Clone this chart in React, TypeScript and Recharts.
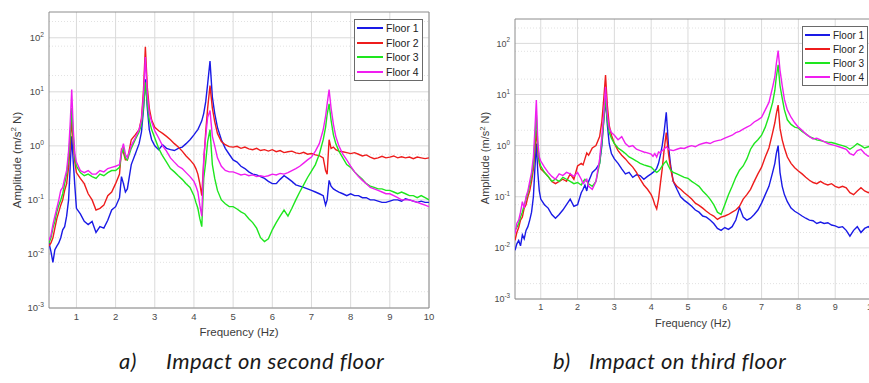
import {
  CartesianGrid,
  Legend,
  Line,
  LineChart,
  ReferenceArea,
  XAxis,
  YAxis,
} from 'recharts'

const FONT = '"Liberation Sans", Arial, sans-serif'
const CAPTION_FONT = 'Lato, "Open Sans", sans-serif'

// shared frequency grid (Hz), denser around the modes
const FREQ = [
  0.3, 0.35, 0.4, 0.45, 0.5, 0.55, 0.6, 0.65, 0.7, 0.75,
  0.8, 0.84, 0.88, 0.92, 0.96, 1.0,
  1.1, 1.2, 1.3, 1.4, 1.5, 1.6, 1.7, 1.8, 1.9, 2.0,
  2.1, 2.15, 2.2, 2.25, 2.3, 2.4, 2.5, 2.6,
  2.66, 2.71, 2.76, 2.81, 2.86, 2.92, 3.0,
  3.1, 3.2, 3.3, 3.4, 3.5, 3.6, 3.7, 3.8, 3.9,
  4.0, 4.05, 4.1, 4.15, 4.2, 4.25, 4.3,
  4.35, 4.41, 4.47, 4.53, 4.6, 4.7, 4.8, 4.9, 5.0,
  5.1, 5.2, 5.3, 5.4, 5.5, 5.6, 5.7, 5.8, 5.9, 6.0,
  6.1, 6.2, 6.3, 6.4, 6.5, 6.6, 6.7, 6.8, 6.9, 7.0,
  7.1, 7.2, 7.3, 7.36, 7.4, 7.45, 7.5, 7.56, 7.62, 7.7,
  7.8, 7.9, 8.0, 8.1, 8.2, 8.3, 8.4, 8.5, 8.6, 8.7,
  8.8, 8.9, 9.0, 9.1, 9.2, 9.3, 9.4, 9.5, 9.6, 9.7,
  9.8, 9.9, 10.0,
]

// a) impact on second floor
const A_FLOOR1 = [
  0.016, 0.011, 0.007, 0.012, 0.014, 0.016, 0.02, 0.028, 0.032, 0.05,
  0.1, 0.4, 1.5, 0.5, 0.18, 0.07,
  0.055, 0.04, 0.035, 0.04, 0.025, 0.032, 0.03, 0.042, 0.065, 0.075,
  0.11, 0.27, 0.2, 0.14, 0.16, 0.45, 0.7, 1.1,
  1.8, 4.5, 17, 5, 2, 1.3, 1.0,
  0.85, 1.05, 0.9, 0.85, 0.82, 0.9, 0.95, 1.1, 1.3,
  1.6, 1.8, 2.0, 2.4, 2.9, 4.0, 6.5,
  14, 37, 8, 4, 2.2, 1.3, 0.9, 0.7, 0.55,
  0.5, 0.42, 0.38, 0.33, 0.3, 0.29, 0.27, 0.25, 0.22, 0.2,
  0.2, 0.24, 0.28, 0.25, 0.22, 0.19, 0.18, 0.17, 0.16, 0.15,
  0.14, 0.13, 0.12, 0.08, 0.1, 0.23, 0.18, 0.16, 0.15, 0.14,
  0.13, 0.12, 0.13, 0.12, 0.12, 0.11, 0.11, 0.1, 0.1, 0.095,
  0.09, 0.09, 0.095, 0.1, 0.1, 0.095, 0.105, 0.1, 0.095, 0.09,
  0.095, 0.09, 0.09,
]
const A_FLOOR2 = [
  0.014, 0.016, 0.02, 0.03, 0.045, 0.06, 0.08, 0.1, 0.15, 0.2,
  0.4, 1.0, 3, 1.2, 0.5, 0.32,
  0.25, 0.2, 0.13, 0.1, 0.065, 0.07, 0.08, 0.12, 0.14, 0.2,
  0.3, 0.85, 0.75, 0.55, 0.55, 1.3, 1.6, 2.0,
  3.2, 10, 68, 12, 5, 3, 2.2,
  1.9, 1.7, 1.5, 1.3, 1.1, 0.95, 0.8, 0.65, 0.55,
  0.45, 0.38, 0.3, 0.2, 0.12, 0.5, 1.8,
  5, 13, 5, 2.8, 1.7, 1.2, 1.05, 0.97, 0.95,
  0.98, 0.9, 0.95, 0.88, 0.85, 0.9, 0.82, 0.85, 0.8, 0.85,
  0.78, 0.82, 0.75, 0.78, 0.8, 0.74, 0.72, 0.76, 0.7, 0.72,
  0.68, 0.66, 0.6, 0.35, 0.3, 1.3, 0.9, 0.95, 0.85, 0.8,
  0.78, 0.75, 0.72, 0.75, 0.7, 0.65, 0.68, 0.62, 0.58, 0.6,
  0.64, 0.6, 0.62, 0.65, 0.6, 0.63, 0.6, 0.62, 0.58, 0.62,
  0.6, 0.58, 0.6,
]
const A_FLOOR3 = [
  0.016, 0.02, 0.03, 0.04, 0.06, 0.08, 0.1, 0.13, 0.2, 0.3,
  0.6, 1.5, 5, 1.5, 0.6, 0.42,
  0.32, 0.28, 0.3, 0.27, 0.25, 0.3, 0.28, 0.32, 0.35, 0.35,
  0.4, 0.7, 0.9, 0.6, 0.55, 0.9, 1.3, 1.8,
  2.5, 5, 15, 6, 3, 2, 1.4,
  0.9, 0.65, 0.5, 0.38, 0.33, 0.28, 0.24, 0.2, 0.17,
  0.12, 0.09, 0.07, 0.045, 0.032, 0.25, 0.5,
  1.2, 2.0, 0.45, 0.25, 0.15, 0.1, 0.085, 0.075, 0.075,
  0.068, 0.06, 0.055, 0.045, 0.038, 0.03, 0.02, 0.017, 0.019, 0.028,
  0.038, 0.05, 0.065, 0.05, 0.07, 0.1, 0.14, 0.19, 0.26, 0.34,
  0.45, 0.7, 1.3, 2.2, 3.8, 6, 3, 1.6, 1.1, 0.8,
  0.6, 0.45, 0.4, 0.33, 0.28, 0.24, 0.2, 0.18, 0.17, 0.16,
  0.16, 0.15, 0.15, 0.14, 0.13, 0.14, 0.13, 0.12, 0.12, 0.11,
  0.12, 0.11, 0.1,
]
const A_FLOOR4 = [
  0.018, 0.022, 0.035, 0.05, 0.07, 0.1, 0.15, 0.17, 0.25, 0.35,
  0.8, 2.5, 11, 2, 0.7, 0.5,
  0.35, 0.32, 0.35, 0.3, 0.3, 0.35, 0.33, 0.38, 0.4, 0.42,
  0.45, 0.8, 1.1, 0.7, 0.6, 1.0, 1.4, 2.0,
  3, 8, 44, 9, 4, 2.8, 1.9,
  1.4, 1.0, 0.8, 0.6, 0.5, 0.42, 0.38, 0.32, 0.27,
  0.22, 0.18, 0.14, 0.08, 0.05, 0.6, 1.5,
  3.4, 4.5, 1.5, 1.0, 0.6, 0.42, 0.35, 0.33, 0.33,
  0.31, 0.29, 0.3, 0.28, 0.29, 0.27, 0.28, 0.27, 0.28, 0.3,
  0.29, 0.31, 0.3, 0.32, 0.35, 0.38, 0.42, 0.48, 0.55, 0.62,
  0.8, 1.1, 2, 3.5, 6, 11, 5, 2.5, 1.5, 1.0,
  0.7, 0.55, 0.42, 0.33, 0.27, 0.23, 0.2, 0.17, 0.16, 0.15,
  0.14, 0.13, 0.13, 0.12, 0.11, 0.1, 0.1, 0.1, 0.095, 0.09,
  0.085, 0.08, 0.075,
]

// b) impact on third floor
const B_FLOOR1 = [
  0.009, 0.012, 0.014, 0.011, 0.018, 0.015, 0.022, 0.026, 0.035, 0.05,
  0.1, 0.35, 1.1, 0.3, 0.13, 0.09,
  0.07, 0.06, 0.045, 0.038, 0.045, 0.055, 0.07, 0.09, 0.065, 0.07,
  0.12, 0.14, 0.17, 0.13, 0.2, 0.3, 0.35, 0.45,
  1.0, 3, 7.8, 2.5, 1.1, 0.7, 0.55,
  0.45, 0.35, 0.28, 0.3, 0.24, 0.27, 0.26, 0.22, 0.25,
  0.28, 0.3, 0.32, 0.36, 0.45, 0.65, 1.0,
  1.8, 4.5, 1.0, 0.4, 0.2, 0.14, 0.1, 0.085, 0.075,
  0.065, 0.055, 0.05, 0.042, 0.04, 0.035, 0.03, 0.024, 0.022, 0.025,
  0.023, 0.026, 0.035, 0.062, 0.04, 0.035, 0.038, 0.045, 0.055, 0.075,
  0.11, 0.16, 0.3, 0.45, 0.7, 1.0, 0.3, 0.16, 0.11, 0.08,
  0.06, 0.052, 0.047, 0.042, 0.038, 0.035, 0.034, 0.03, 0.032, 0.03,
  0.031, 0.028, 0.027, 0.025, 0.026, 0.022, 0.017, 0.022, 0.026, 0.02,
  0.024, 0.026, 0.022,
]
const B_FLOOR2 = [
  0.014, 0.02, 0.025, 0.035, 0.04, 0.06, 0.07, 0.1, 0.13, 0.2,
  0.35, 0.8, 2, 0.8, 0.45, 0.35,
  0.3, 0.25, 0.2, 0.18, 0.2, 0.22, 0.2, 0.28, 0.22, 0.4,
  0.45, 0.42, 0.55, 0.72, 0.65, 0.9, 1.0, 1.5,
  3, 8, 24, 6, 2.5, 1.6, 1.1,
  0.8, 0.65, 0.55, 0.45, 0.38, 0.3, 0.22, 0.17, 0.14,
  0.11, 0.09, 0.07, 0.058, 0.09, 0.18, 0.35,
  0.8, 1.8, 0.7, 0.35, 0.2, 0.16, 0.14, 0.12, 0.105,
  0.09, 0.075, 0.068, 0.06, 0.052, 0.046, 0.042, 0.036, 0.04, 0.042,
  0.045, 0.05, 0.055, 0.065, 0.09, 0.11, 0.14, 0.2, 0.28, 0.38,
  0.6, 0.9, 1.8, 2.8, 4.2, 6.2, 2.2, 1.3, 0.9, 0.6,
  0.45, 0.37, 0.32, 0.28, 0.24, 0.21, 0.19, 0.18, 0.2, 0.18,
  0.17, 0.18, 0.16, 0.15, 0.16, 0.15, 0.12, 0.11, 0.13, 0.15,
  0.13, 0.12, 0.13,
]
const B_FLOOR3 = [
  0.022, 0.025, 0.03, 0.04, 0.05, 0.07, 0.09, 0.12, 0.17, 0.25,
  0.45, 1.2, 4, 1.0, 0.5, 0.4,
  0.3, 0.25, 0.2, 0.22, 0.2, 0.24, 0.22, 0.2, 0.18, 0.19,
  0.17, 0.2, 0.22, 0.2, 0.18, 0.16, 0.2, 0.45,
  1.2, 3, 9, 3, 1.8, 1.4, 1.1,
  0.9, 0.8, 0.7, 0.6, 0.55, 0.5, 0.45, 0.42, 0.4,
  0.38, 0.35, 0.32, 0.3, 0.32, 0.35, 0.4,
  0.45, 0.5, 0.4, 0.33, 0.3, 0.28, 0.26, 0.24, 0.23,
  0.2, 0.18, 0.16, 0.13, 0.11, 0.09, 0.07, 0.05, 0.045, 0.07,
  0.11, 0.16, 0.24, 0.33, 0.4, 0.55, 0.85, 1.1, 1.3, 1.6,
  2.3, 3.8, 7, 12, 22, 38, 15, 8.5, 5, 3.2,
  2.6, 2.3, 2.2, 1.9, 1.7, 1.5, 1.4, 1.3, 1.25, 1.2,
  1.17, 1.15, 1.1, 1.05, 1.0, 0.95, 0.85, 0.95, 1.1, 1.0,
  0.9, 0.95, 1.0,
]
const B_FLOOR4 = [
  0.019, 0.03, 0.035, 0.05, 0.08, 0.06, 0.1, 0.13, 0.2, 0.3,
  0.6, 2, 7.8, 1.2, 0.6, 0.5,
  0.38, 0.3, 0.25, 0.22, 0.28, 0.26, 0.3, 0.28, 0.25, 0.3,
  0.22, 0.18, 0.2, 0.22, 0.16, 0.14, 0.2, 0.55,
  1.5, 4, 14, 4, 2.2, 1.8, 1.6,
  1.3, 1.5, 1.1, 0.95, 1.0, 0.85, 0.8, 0.75, 0.72,
  0.68, 0.62, 0.7, 0.6, 0.75, 0.72, 0.8,
  0.85, 0.95, 0.85, 0.82, 0.8, 0.85, 0.9, 0.88, 0.95,
  1.0, 0.95, 1.05, 1.1, 1.15, 1.1, 1.2, 1.25, 1.3, 1.4,
  1.5, 1.6, 1.8, 1.9, 2.1, 2.3, 2.5, 2.9, 3.2, 3.6,
  5, 7, 14, 22, 40, 72, 30, 15, 8, 5,
  3.6, 2.8, 2.3, 2.0, 1.7, 1.5, 1.35, 1.4, 1.3, 1.2,
  1.1, 1.05, 1.0, 0.95, 0.9, 0.85, 0.7, 0.65, 0.8, 0.85,
  0.7, 0.62, 0.65,
]

const SERIES = [
  { key: 'f1', name: 'Floor 1', color: '#1a1ae6' },
  { key: 'f2', name: 'Floor 2', color: '#ee1c1c' },
  { key: 'f3', name: 'Floor 3', color: '#1ee61e' },
  { key: 'f4', name: 'Floor 4', color: '#f01ef0' },
]

const X_TICKS = [1, 2, 3, 4, 5, 6, 7, 8, 9, 10]
const Y_TICKS = [0.001, 0.01, 0.1, 1, 10, 100]
const Y_MINOR = Y_TICKS.flatMap((d) => [2, 3, 4, 5, 6, 7, 8, 9].map((m) => d * m)).filter(
  (v) => v < 300,
)

function toRows(floors: number[][]) {
  return FREQ.map((f, i) => ({
    f,
    f1: floors[0][i],
    f2: floors[1][i],
    f3: floors[2][i],
    f4: floors[3][i],
  }))
}

function LogTick(props: any) {
  const { x, y, payload, fs } = props
  const exp = Math.round(Math.log10(payload.value))
  return (
    <text x={x} y={y} dy={fs * 0.35} textAnchor="end" fill="#4a4a4a" fontSize={fs} fontFamily={FONT}>
      10
      <tspan dy={-fs * 0.45} fontSize={fs * 0.7}>
        {exp}
      </tspan>
    </text>
  )
}

function legendContent(fs: number, rowH: number, lineW: number) {
  return () => (
    <div
      style={{
        border: '1px solid #6a6a6a',
        background: '#fff',
        padding: '1px 3px 1px 2px',
        fontFamily: FONT,
        fontSize: fs,
        color: '#222',
      }}
    >
      {SERIES.map((s) => (
        <div key={s.key} style={{ display: 'flex', alignItems: 'center', height: rowH }}>
          <span
            style={{
              display: 'inline-block',
              width: lineW,
              borderTop: `2px solid ${s.color}`,
              marginRight: 3,
            }}
          />
          {s.name}
        </div>
      ))}
    </div>
  )
}

interface PanelProps {
  rows: ReturnType<typeof toRows>
  left: number
  width: number
  height: number
  margin: { top: number; right: number; bottom: number; left: number }
  yAxisWidth: number
  xAxisHeight: number
  tickFs: number
  legendPos: { left: number; top: number }
  legendFs: number
  legendRow: number
  legendLine: number
}

function Panel(p: PanelProps) {
  return (
    <div style={{ position: 'absolute', left: p.left, top: 0 }}>
      <LineChart width={p.width} height={p.height} data={p.rows} margin={p.margin}>
        <CartesianGrid
          stroke="#e2e2e2"
          strokeDasharray="1 2"
          vertical={false}
          horizontalValues={Y_MINOR}
        />
        <CartesianGrid stroke="#dadada" horizontalValues={Y_TICKS} verticalValues={X_TICKS} />
        <XAxis
          dataKey="f"
          type="number"
          domain={[0.3, 10]}
          ticks={X_TICKS}
          allowDataOverflow
          height={p.xAxisHeight}
          axisLine={false}
          tickLine={false}
          tickSize={3}
          tickMargin={2}
          tick={{ fill: '#4a4a4a', fontSize: p.tickFs, fontFamily: FONT }}
        />
        <YAxis
          scale="log"
          type="number"
          domain={[0.001, 300]}
          ticks={Y_TICKS}
          allowDataOverflow
          width={p.yAxisWidth}
          axisLine={false}
          tickLine={false}
          tickSize={3}
          tickMargin={2}
          tick={(t: any) => <LogTick {...t} fs={p.tickFs} />}
        />
        {SERIES.map((s) => (
          <Line
            key={s.key}
            dataKey={s.key}
            name={s.name}
            stroke={s.color}
            strokeWidth={1.4}
            dot={false}
            activeDot={false}
            isAnimationActive={false}
          />
        ))}
        <ReferenceArea
          x1={0.3}
          x2={10}
          y1={0.001}
          y2={300}
          fill="none"
          stroke="#8c8c8c"
          strokeWidth={1}
          ifOverflow="visible"
        />
        <Legend
          layout="vertical"
          align="center"
          verticalAlign="middle"
          wrapperStyle={{ left: p.legendPos.left, top: p.legendPos.top, width: 'auto' }}
          content={legendContent(p.legendFs, p.legendRow, p.legendLine)}
        />
      </LineChart>
    </div>
  )
}

function AxisTitle({ x, y, fs, rotate, children }: any) {
  return (
    <div
      style={{
        position: 'absolute',
        left: x,
        top: y,
        transform: `translate(-50%, -50%)${rotate ? ' rotate(-90deg)' : ''}`,
        whiteSpace: 'nowrap',
        fontFamily: FONT,
        fontSize: fs,
        color: '#3c3c3c',
        lineHeight: 1,
      }}
    >
      {children}
    </div>
  )
}

function Caption({ x, children }: any) {
  return (
    <span
      style={{
        position: 'absolute',
        left: x,
        top: 350,
        fontFamily: CAPTION_FONT,
        fontStyle: 'italic',
        fontSize: 22,
        letterSpacing: 0.45,
        lineHeight: '22px',
        color: '#1a1a1a',
        whiteSpace: 'nowrap',
      }}
    >
      {children}
    </span>
  )
}

export default function App() {
  const rowsA = toRows([A_FLOOR1, A_FLOOR2, A_FLOOR3, A_FLOOR4])
  const rowsB = toRows([B_FLOOR1, B_FLOOR2, B_FLOOR3, B_FLOOR4])
  return (
    <div
      style={{
        position: 'relative',
        width: 869,
        height: 383,
        overflow: 'hidden',
        background: '#fff',
      }}
    >
      <style>{'body{margin:0}'}</style>
      <Panel
        rows={rowsA}
        left={0}
        width={440}
        height={345}
        margin={{ top: 12, right: 11, bottom: 0, left: 13 }}
        yAxisWidth={36}
        xAxisHeight={37}
        tickFs={9.5}
        legendPos={{ left: 354, top: 19 }}
        legendFs={10.5}
        legendRow={14.6}
        legendLine={26}
      />
      <Panel
        rows={rowsB}
        left={440}
        width={440}
        height={340}
        margin={{ top: 19, right: 8, bottom: 0, left: 35 }}
        yAxisWidth={40}
        xAxisHeight={41}
        tickFs={9}
        legendPos={{ left: 362, top: 26 }}
        legendFs={10}
        legendRow={14}
        legendLine={25}
      />
      <AxisTitle x={17} y={160} fs={11.5} rotate>
        Amplitude (m/s<sup style={{ fontSize: '0.7em' }}>2</sup> N)
      </AxisTitle>
      <AxisTitle x={239} y={333} fs={11.5}>
        Frequency (Hz)
      </AxisTitle>
      <AxisTitle x={485} y={158} fs={11} rotate>
        Amplitude (m/s<sup style={{ fontSize: '0.7em' }}>2</sup> N)
      </AxisTitle>
      <AxisTitle x={693} y={323} fs={11}>
        Frequency (Hz)
      </AxisTitle>
      <Caption x={119}>a)</Caption>
      <Caption x={166}>Impact on second floor</Caption>
      <Caption x={553}>b)</Caption>
      <Caption x={589}>Impact on third floor</Caption>
    </div>
  )
}
